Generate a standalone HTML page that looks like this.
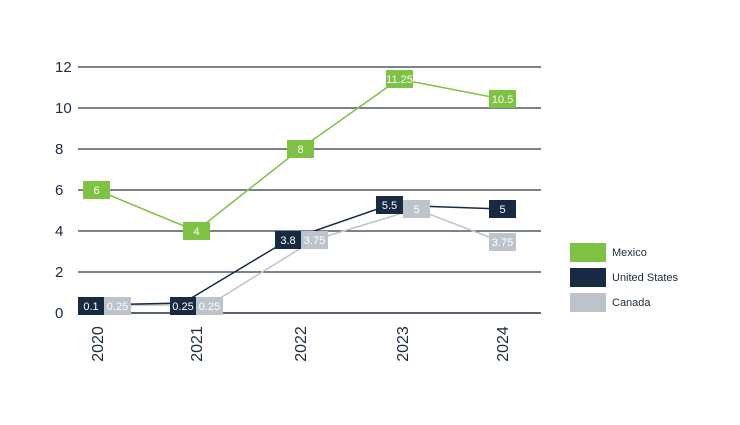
<!DOCTYPE html>
<html><head><meta charset="utf-8"><style>body{margin:0;background:#fff}</style></head><body>
<svg width="740" height="420" xmlns="http://www.w3.org/2000/svg" font-family="Liberation Sans, sans-serif">
<g stroke="#2c3848" stroke-width="1.3">
<line x1="78" y1="67" x2="541" y2="67"/><line x1="78" y1="108" x2="541" y2="108"/>
<line x1="78" y1="149" x2="541" y2="149"/><line x1="78" y1="190" x2="541" y2="190"/>
<line x1="78" y1="231" x2="541" y2="231"/><line x1="78" y1="272" x2="541" y2="272"/>
<line x1="78" y1="313" x2="541" y2="313" stroke="#5a6370" stroke-width="2"/>
</g>
<g font-size="15" fill="#1c2a3d" text-anchor="start">
<text x="55" y="72">12</text><text x="55" y="113">10</text><text x="55" y="154">8</text>
<text x="55" y="195">6</text><text x="55" y="236">4</text><text x="55" y="277">2</text><text x="55" y="318">0</text>
</g>
<g font-size="16" fill="#1c2a3d" text-anchor="middle">
<text transform="translate(103,344) rotate(-90)">2020</text>
<text transform="translate(202,344) rotate(-90)">2021</text>
<text transform="translate(306,344) rotate(-90)">2022</text>
<text transform="translate(408,344) rotate(-90)">2023</text>
<text transform="translate(508,344) rotate(-90)">2024</text>
</g>
<polyline fill="none" stroke="#bdc3ca" stroke-width="1.5" points="117,305 209,305 314,240 416,209 502,242"/>
<polyline fill="none" stroke="#182a42" stroke-width="1.5" points="91,305 183,303 288,240 389,205 502,209"/>
<polyline fill="none" stroke="#7dc242" stroke-width="1.5" points="97,190 196,231 300,149 399,79 502,99"/>
<g font-size="11" fill="#fff" text-anchor="middle">
<rect x="83" y="181" width="27" height="18" fill="#7dc242"/><text x="96.5" y="194">6</text>
<rect x="183" y="222" width="27" height="18" fill="#7dc242"/><text x="196.5" y="235">4</text>
<rect x="287" y="140" width="27" height="18" fill="#7dc242"/><text x="300.5" y="153">8</text>
<rect x="386" y="70" width="27" height="18" fill="#7dc242"/><text x="399.5" y="83">11.25</text>
<rect x="489" y="90" width="27" height="18" fill="#7dc242"/><text x="502.5" y="103">10.5</text>
<rect x="78" y="297" width="26" height="18" fill="#182a42"/><text x="91" y="310">0.1</text>
<rect x="104" y="297" width="27" height="18" fill="#bdc3ca"/><text x="117.5" y="310">0.25</text>
<rect x="170" y="297" width="26" height="18" fill="#182a42"/><text x="183" y="310">0.25</text>
<rect x="196" y="297" width="27" height="18" fill="#bdc3ca"/><text x="209.5" y="310">0.25</text>
<rect x="275" y="231" width="26" height="18" fill="#182a42"/><text x="288" y="244">3.8</text>
<rect x="301" y="231" width="27" height="18" fill="#bdc3ca"/><text x="314.5" y="244">3.75</text>
<rect x="376" y="196" width="27" height="18" fill="#182a42"/><text x="389.5" y="209">5.5</text>
<rect x="403" y="200" width="27" height="18" fill="#bdc3ca"/><text x="416.5" y="213">5</text>
<rect x="489" y="200" width="27" height="18" fill="#182a42"/><text x="502.5" y="213">5</text>
<rect x="489" y="233" width="27" height="18" fill="#bdc3ca"/><text x="502.5" y="246">3.75</text>
</g>
<rect x="570" y="243" width="36" height="19" fill="#7dc242"/>
<rect x="570" y="268" width="36" height="19" fill="#182a42"/>
<rect x="570" y="293" width="36" height="19" fill="#bdc3ca"/>
<g font-size="11" fill="#1c2a3d">
<text x="612" y="256">Mexico</text><text x="612" y="281">United States</text><text x="612" y="306">Canada</text>
</g>
</svg>
</body></html>
